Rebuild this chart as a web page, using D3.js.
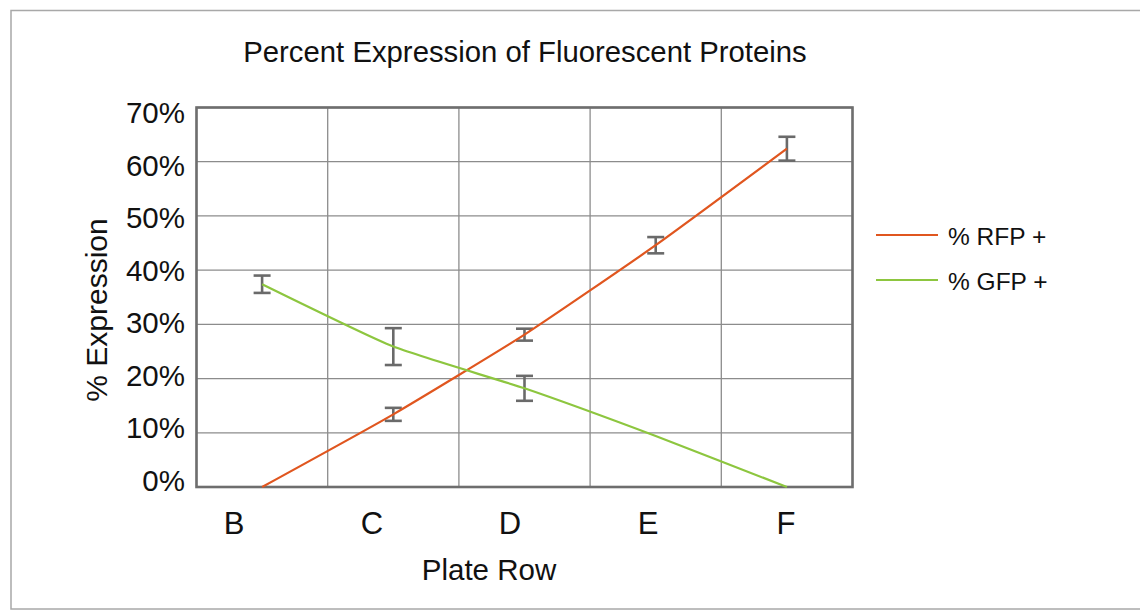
<!DOCTYPE html>
<html>
<head>
<meta charset="utf-8">
<script src="https://cdn.jsdelivr.net/npm/d3@7"></script>
<style>
  html, body { margin: 0; padding: 0; background: #ffffff; }
  svg { display: block; font-family: "Liberation Sans", Arial, sans-serif; }
</style>
</head>
<body>
<svg id="chart" width="1140" height="614"></svg>
<script>
// ---- data ----
const categories = ["B", "C", "D", "E", "F"];
const rfpValues = [0, 13.4, 28.1, 44.6, 62.4];
const rfpErrors = [null, 1.2, 1.1, 1.5, 2.2];
const gfpValues = [37.4, 25.9, 18.2, 9.4, 0];
const gfpErrors = [1.6, 3.4, 2.3, null, null];
const yTicks = [0, 10, 20, 30, 40, 50, 60, 70];
const seriesNames = ["% RFP +", "% GFP +"];
const seriesColors = ["#e0561f", "#8dc63f"];

const title = "Percent Expression of Fluorescent Proteins";
const xTitle = "Plate Row";
const yTitle = "% Expression";

// ---- layout ----
const svg = d3.select("#chart");
const plot = { left: 196.5, right: 852.5, top: 107.5, bottom: 487 };

const x = d3.scaleBand().domain(categories).range([plot.left, plot.right]).padding(0);
const xLabel = d3.scalePoint().domain(categories).range([234, 786]);
const y = d3.scaleLinear().domain([0, 70]).range([plot.bottom, plot.top]);
const yLabel = d3.scaleLinear().domain([0, 70]).range([491, 123]);
const cx = c => x(c) + x.bandwidth() / 2;

// outer frame
svg.append("rect")
  .attr("x", 11).attr("y", 10.5).attr("width", 1140).attr("height", 598.5)
  .attr("fill", "none").attr("stroke", "#a8a8a8").attr("stroke-width", 1.5);

// title
svg.append("text")
  .attr("x", 525).attr("y", 62)
  .attr("text-anchor", "middle")
  .attr("font-size", 29.3).attr("fill", "#111")
  .text(title);

// gridlines
const grid = svg.append("g").attr("stroke", "#8c8c8c").attr("stroke-width", 1.3);
grid.selectAll("line.h").data(yTicks).enter().append("line")
  .attr("x1", plot.left).attr("x2", plot.right)
  .attr("y1", d => y(d)).attr("y2", d => y(d));
const edges = categories.map(c => x(c)).concat([plot.right]);
grid.selectAll("line.v").data(edges).enter().append("line")
  .attr("x1", d => d).attr("x2", d => d)
  .attr("y1", plot.top).attr("y2", plot.bottom);

// plot border
svg.append("rect")
  .attr("x", plot.left).attr("y", plot.top)
  .attr("width", plot.right - plot.left).attr("height", plot.bottom - plot.top)
  .attr("fill", "none").attr("stroke", "#6e6e6e").attr("stroke-width", 2.6);

// y tick labels
svg.append("g").selectAll("text").data(yTicks).enter().append("text")
  .attr("x", 185).attr("y", d => yLabel(d))
  .attr("text-anchor", "end")
  .attr("font-size", 29.5).attr("fill", "#111")
  .text(d => d + "%");

// x category labels
svg.append("g").selectAll("text").data(categories).enter().append("text")
  .attr("x", d => xLabel(d)).attr("y", 534)
  .attr("text-anchor", "middle")
  .attr("font-size", 31).attr("fill", "#111")
  .text(d => d);

// axis titles
svg.append("text")
  .attr("x", 489).attr("y", 580)
  .attr("text-anchor", "middle")
  .attr("font-size", 29.5).attr("fill", "#111")
  .text(xTitle);
svg.append("text")
  .attr("transform", "translate(107,310) rotate(-90)")
  .attr("text-anchor", "middle")
  .attr("font-size", 30).attr("fill", "#111")
  .text(yTitle);

// lines
const line = d3.line()
  .x((d, i) => cx(categories[i]))
  .y(d => y(d))
  .curve(d3.curveCardinal.tension(0.5));

const allSeries = [
  { values: rfpValues, errors: rfpErrors, color: seriesColors[0] },
  { values: gfpValues, errors: gfpErrors, color: seriesColors[1] }
];

// error bars
const errG = svg.append("g").attr("stroke", "#6a6a6a").attr("stroke-width", 2.6).attr("fill", "none");
allSeries.forEach(s => {
  s.values.forEach((v, i) => {
    const e = s.errors[i];
    if (e == null) return;
    const px = cx(categories[i]);
    errG.append("line").attr("x1", px).attr("x2", px).attr("y1", y(v - e)).attr("y2", y(v + e));
    errG.append("line").attr("x1", px - 8.5).attr("x2", px + 8.5).attr("y1", y(v - e)).attr("y2", y(v - e));
    errG.append("line").attr("x1", px - 8.5).attr("x2", px + 8.5).attr("y1", y(v + e)).attr("y2", y(v + e));
  });
});

allSeries.forEach(s => {
  svg.append("path")
    .datum(s.values)
    .attr("d", line)
    .attr("fill", "none")
    .attr("stroke", s.color)
    .attr("stroke-width", 2.2);
});

// legend
const legend = svg.append("g");
seriesNames.forEach((name, i) => {
  const ly = 235 + i * 45;
  legend.append("line")
    .attr("x1", 876).attr("x2", 938).attr("y1", ly).attr("y2", ly)
    .attr("stroke", seriesColors[i]).attr("stroke-width", 2.2);
  legend.append("text")
    .attr("x", 948).attr("y", ly + 9.5)
    .attr("font-size", 24.5).attr("fill", "#111")
    .text(name);
});
</script>
</body>
</html>
